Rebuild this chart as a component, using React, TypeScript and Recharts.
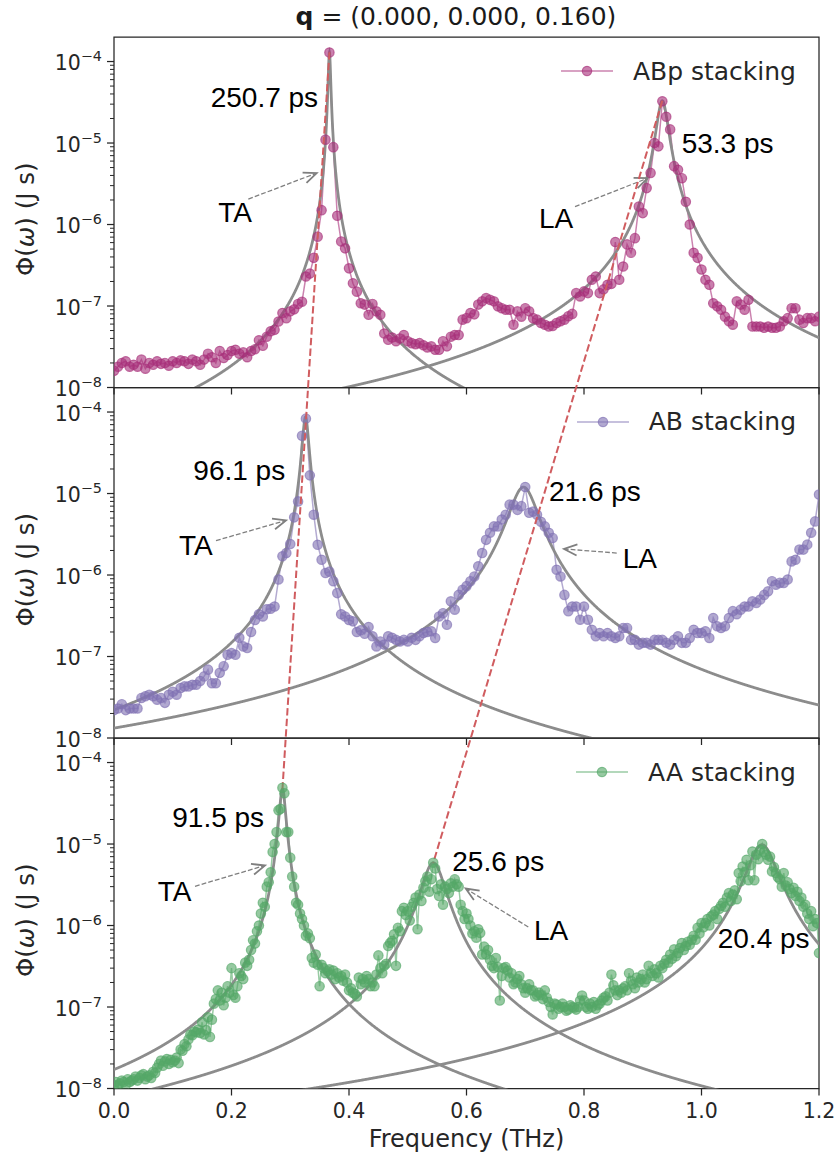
import React from 'react';
import {
  LineChart,
  Line,
  XAxis,
  YAxis,
  ReferenceLine,
  ReferenceDot,
  ReferenceArea,
  Legend,
  Customized,
} from 'recharts';

// ---------- figure layout ----------
const FIG_W = 839;
const FIG_H = 1159;
const PLOT_LEFT = 114;
const PLOT_RIGHT = 819;
const PANEL_TOP0 = 37;
const PANEL_H = 350.5;
const X_AXIS_H = 30;

const Y_MIN = 1e-8;
const Y_MAX = 2e-4;
const PANEL_SPAN = Y_MAX / Y_MIN; // one panel height, expressed as a y-ratio
const X_MAX = 1.2;
const X_TICKS = [0, 0.2, 0.4, 0.6, 0.8, 1.0, 1.2];

const AXIS_COLOR = '#262626';
const FONT_MAIN = '"DejaVu Sans", sans-serif';
const FONT_NOTE = '"Liberation Sans", Arial, sans-serif';
const FIT_COLOR = '#8c8c8c';
const LINK_COLOR = '#d05c5f';
const ARROW_COLOR = '#7f7f7f';
const TICK_FONT = 20.5;

// ---------- spectra: Φ(ω) in J s on uniform frequency grids (THz) ----------
const ABP_DF = 1 / 150;
const AB_DF = 1 / 150;
const AA_DF = 1 / 300;

const ABP_PHI = [
  1.6e-8, 1.8e-8, 2.0e-8, 2.1e-8, 1.8e-8, 1.9e-8, 1.8e-8, 2.2e-8, 1.7e-8, 2.0e-8,
  1.9e-8, 2.1e-8, 1.95e-8, 2.0e-8, 1.85e-8, 2.1e-8, 2.0e-8, 2.15e-8, 2.1e-8, 1.95e-8,
  2.2e-8, 2.1e-8, 1.9e-8, 2.2e-8, 2.6e-8, 2.35e-8, 2.0e-8, 2.8e-8, 2.3e-8, 2.5e-8,
  2.8e-8, 2.9e-8, 2.6e-8, 2.7e-8, 2.35e-8, 2.8e-8, 2.95e-8, 3.8e-8, 3.25e-8, 4.2e-8,
  4.9e-8, 5.1e-8, 6.45e-8, 8.2e-8, 7.1e-8, 8.6e-8, 9.1e-8, 1.06e-7, 1.13e-7, 2.3e-7,
  2.5e-7, 3.9e-7, 7.1e-7, 1.5e-6, 1.1e-5, 1.29e-4, 8.9e-6, 1.28e-6, 6.2e-7, 5.1e-7,
  2.9e-7, 1.9e-7, 1.5e-7, 1.08e-7, 1.04e-7, 7.8e-8, 1.06e-7, 8.6e-8, 7.8e-8, 4.6e-8,
  3.85e-8, 4.1e-8, 3.7e-8, 4.0e-8, 4.4e-8, 3.7e-8, 3.5e-8, 3.4e-8, 3.5e-8, 3.3e-8,
  3.1e-8, 3.2e-8, 2.9e-8, 2.9e-8, 3.7e-8, 3.2e-8, 4.2e-8, 4.4e-8, 4.4e-8, 6.8e-8,
  7.1e-8, 8.2e-8, 7.9e-8, 1.04e-7, 1.14e-7, 1.25e-7, 1.19e-7, 1.14e-7, 9.9e-8, 9.4e-8,
  9.0e-8, 9.0e-8, 5.9e-8, 8.6e-8, 7.4e-8, 9.4e-8, 8.6e-8, 7.1e-8, 6.8e-8, 6.2e-8,
  5.9e-8, 5.6e-8, 5.7e-8, 6.2e-8, 6.5e-8, 6.8e-8, 7.5e-8, 8.0e-8, 1.44e-7, 1.31e-7,
  1.51e-7, 1.44e-7, 2.1e-7, 2.3e-7, 1.44e-7, 1.6e-7, 1.82e-7, 1.87e-7, 6.1e-7, 2.1e-7,
  3.05e-7, 5.7e-7, 4.5e-7, 6.8e-7, 1.66e-6, 1.38e-6, 2.8e-6, 4.3e-6, 1.0e-5, 9.1e-6,
  3.25e-5, 2.1e-5, 1.47e-5, 5.2e-6, 4.7e-6, 3.7e-6, 1.9e-6, 1.0e-6, 4.5e-7, 3.9e-7,
  2.8e-7, 2.1e-7, 1.82e-7, 1.08e-7, 9.9e-8, 9.0e-8, 7.4e-8, 6.5e-8, 5.9e-8, 1.14e-7,
  1.04e-7, 9.0e-8, 1.19e-7, 5.6e-8, 5.6e-8, 5.6e-8, 5.4e-8, 5.6e-8, 5.4e-8, 5.4e-8,
  5.6e-8, 6.5e-8, 7.1e-8, 9.4e-8, 9.4e-8, 6.8e-8, 6.2e-8, 7.1e-8, 7.1e-8, 6.5e-8,
  7.4e-8,
];

const AB_PHI = [
  2.2e-8, 2.3e-8, 2.6e-8, 2.2e-8, 2.3e-8, 2.3e-8, 2.3e-8, 3.1e-8, 3.25e-8, 3.4e-8,
  3.25e-8, 2.95e-8, 3.1e-8, 2.7e-8, 3.4e-8, 3.7e-8, 3.4e-8, 4.1e-8, 4.3e-8, 4.3e-8,
  4.5e-8, 4.5e-8, 5.0e-8, 5.7e-8, 6.9e-8, 4.7e-8, 4.7e-8, 6.3e-8, 7.6e-8, 1.05e-7,
  1.1e-7, 1.05e-7, 1.7e-7, 1.33e-7, 1.27e-7, 2.0e-7, 2.8e-7, 3.3e-7, 3.1e-7, 3.8e-7,
  3.85e-7, 4.1e-7, 8.8e-7, 1.7e-6, 1.86e-6, 2.4e-6, 5.1e-6, 8.0e-6, 5.1e-5, 8.3e-5,
  1.67e-5, 5.5e-6, 2.35e-6, 1.54e-6, 1.06e-6, 1.1e-6, 8.4e-7, 6.0e-7, 3.3e-7, 3.1e-7,
  2.8e-7, 2.7e-7, 2.0e-7, 2.1e-7, 1.9e-7, 2.3e-7, 1.77e-7, 1.33e-7, 1.53e-7, 1.4e-7,
  1.77e-7, 1.7e-7, 1.6e-7, 1.53e-7, 1.6e-7, 1.53e-7, 1.7e-7, 1.6e-7, 1.77e-7, 1.94e-7,
  2.0e-7, 2.04e-7, 1.69e-7, 3.1e-7, 3.4e-7, 2.45e-7, 4.75e-7, 3.76e-7, 5.7e-7, 6.6e-7,
  7.3e-7, 8.4e-7, 9.6e-7, 1.28e-6, 1.86e-6, 2.7e-6, 3.3e-6, 3.95e-6, 3.95e-6, 4.8e-6,
  5.5e-6, 7.3e-6, 7.3e-6, 6.3e-6, 7.0e-6, 1.2e-5, 5.8e-6, 6.0e-6, 5.5e-6, 4.5e-6,
  3.95e-6, 3.3e-6, 2.85e-6, 1.16e-6, 9.6e-7, 5.7e-7, 3.6e-7, 4.1e-7, 4.1e-7, 2.83e-7,
  4.1e-7, 2.83e-7, 2.13e-7, 1.77e-7, 1.94e-7, 1.77e-7, 1.94e-7, 1.77e-7, 1.69e-7, 1.77e-7,
  2.24e-7, 2.24e-7, 1.6e-7, 1.6e-7, 1.4e-7, 1.47e-7, 1.47e-7, 1.4e-7, 1.6e-7, 1.6e-7,
  1.6e-7, 1.47e-7, 1.4e-7, 1.6e-7, 1.77e-7, 1.47e-7, 1.47e-7, 1.69e-7, 2.13e-7, 1.94e-7,
  1.94e-7, 2.04e-7, 1.69e-7, 2.97e-7, 2.35e-7, 2.24e-7, 2.35e-7, 2.97e-7, 3.6e-7, 3.3e-7,
  3.76e-7, 4.1e-7, 4.1e-7, 4.75e-7, 4.55e-7, 5.0e-7, 5.7e-7, 6.3e-7, 8.4e-7, 7.6e-7,
  8.0e-7, 8.0e-7, 8.8e-7, 1.47e-6, 1.54e-6, 2.05e-6, 2.05e-6, 2.36e-6, 3.3e-6, 4.55e-6,
  9.7e-6,
];

const AA_PHI = [
  1.1e-8, 1.2e-8, 1.1e-8, 1.15e-8, 1.25e-8, 1.2e-8, 1.1e-8, 1.3e-8, 1.2e-8, 1.25e-8,
  1.3e-8, 1.4e-8, 1.25e-8, 1.35e-8, 1.45e-8, 1.5e-8, 1.3e-8, 1.4e-8, 1.45e-8, 1.35e-8,
  1.6e-8, 1.55e-8, 1.8e-8, 2.0e-8, 2.2e-8, 1.9e-8, 2.15e-8, 2.3e-8, 2.0e-8, 2.25e-8,
  2.1e-8, 2.2e-8, 2.4e-8, 2.05e-8, 3.0e-8, 2.9e-8, 3.5e-8, 3.3e-8, 4.0e-8, 4.6e-8,
  4.5e-8, 5.0e-8, 4.9e-8, 5.3e-8, 4.8e-8, 6.5e-8, 4.6e-8, 5.2e-8, 7.5e-8, 4.3e-8,
  7.0e-8, 1.1e-7, 1.25e-7, 1.6e-7, 1.2e-7, 1.5e-7, 1.05e-7, 1.3e-7, 1.8e-7, 1.5e-7,
  3.0e-7, 1.4e-7, 1.3e-7, 1.8e-7, 2.6e-7, 2.4e-7, 2.2e-7, 3.5e-7, 3.2e-7, 3.8e-7,
  5.0e-7, 6.6e-7, 6.0e-7, 8.5e-7, 1.0e-6, 1.4e-6, 1.9e-6, 1.7e-6, 3.0e-6, 3.4e-6,
  4.5e-6, 8.0e-6, 1.0e-5, 1.4e-5, 2.6e-5, 2.7e-5, 4.9e-5, 4.2e-5, 1.4e-5, 1.4e-5,
  6.8e-6, 4.0e-6, 3.0e-6, 1.9e-6, 1.8e-6, 1.4e-6, 1.2e-6, 1.0e-6, 7.5e-7, 8.0e-7,
  7.0e-7, 4.0e-7, 3.5e-7, 4.4e-7, 3.3e-7, 1.8e-7, 3.3e-7, 3.0e-7, 2.6e-7, 2.75e-7,
  2.9e-7, 2.5e-7, 2.8e-7, 2.2e-7, 2.6e-7, 2.3e-7, 2.4e-7, 2.1e-7, 2.5e-7, 2.0e-7,
  1.6e-7, 1.7e-7, 1.5e-7, 1.45e-7, 1.35e-7, 2.3e-7, 1.9e-7, 2.2e-7, 2.0e-7, 2.4e-7,
  2.2e-7, 1.8e-7, 2.0e-7, 1.8e-7, 2.5e-7, 4.3e-7, 3.0e-7, 2.6e-7, 3.2e-7, 3.4e-7,
  5.6e-7, 6.1e-7, 6.5e-7, 7.8e-7, 3.2e-7, 9.4e-7, 8.5e-7, 1.5e-6, 1.65e-6, 1.35e-6,
  1.5e-6, 1.15e-6, 1.7e-6, 1.9e-6, 2.2e-6, 9.0e-7, 2.4e-6, 2.0e-6, 2.9e-6, 3.5e-6,
  4.0e-6, 2.6e-6, 3.7e-6, 5.9e-6, 5.0e-6, 2.8e-6, 2.3e-6, 3.2e-6, 1.8e-6, 3.0e-6,
  2.8e-6, 2.5e-6, 3.3e-6, 3.0e-6, 3.7e-6, 3.2e-6, 3.0e-6, 1.8e-6, 1.5e-6, 1.2e-6,
  1.4e-6, 1.2e-6, 1.0e-6, 8.0e-7, 8.5e-7, 7.1e-7, 9.0e-7, 8.1e-7, 4.4e-7, 5.5e-7,
  4.4e-7, 5.0e-7, 3.8e-7, 3.2e-7, 3.0e-7, 4.0e-7, 3.1e-7, 1.2e-7, 2.4e-7, 3.0e-7,
  3.1e-7, 2.8e-7, 2.3e-7, 2.6e-7, 1.9e-7, 2.0e-7, 2.2e-7, 2.4e-7, 1.9e-7, 1.7e-7,
  1.5e-7, 1.7e-7, 1.9e-7, 1.6e-7, 1.6e-7, 1.35e-7, 1.4e-7, 1.5e-7, 1.4e-7, 1.25e-7,
  1.6e-7, 1.3e-7, 1.15e-7, 1.0e-7, 8.1e-8, 1.1e-7, 1.07e-7, 9.5e-8, 1.0e-7, 1.1e-7,
  1.0e-7, 9.0e-8, 9.3e-8, 1.05e-7, 1.0e-7, 9.8e-8, 9.3e-8, 1.0e-7, 1.2e-7, 1.38e-7,
  1.2e-7, 1.0e-7, 9.5e-8, 1.1e-7, 1.0e-7, 1.15e-7, 9.5e-8, 1.05e-7, 1.1e-7, 1.2e-7,
  1.3e-7, 1.35e-7, 1.2e-7, 1.5e-7, 2.5e-7, 1.85e-7, 1.6e-7, 1.4e-7, 1.6e-7, 1.5e-7,
  1.7e-7, 1.8e-7, 1.6e-7, 2.6e-7, 2.1e-7, 1.9e-7, 1.7e-7, 2.3e-7, 2.0e-7, 2.2e-7,
  2.5e-7, 2.0e-7, 2.2e-7, 3.2e-7, 2.6e-7, 2.4e-7, 2.9e-7, 2.6e-7, 2.3e-7, 3.2e-7,
  3.0e-7, 3.4e-7, 3.8e-7, 3.5e-7, 4.4e-7, 3.9e-7, 5.1e-7, 4.2e-7, 4.6e-7, 5.3e-7,
  6.1e-7, 5.0e-7, 5.6e-7, 6.3e-7, 5.8e-7, 6.7e-7, 7.5e-7, 6.7e-7, 9.4e-7, 8.0e-7,
  1.07e-6, 9.5e-7, 1.07e-6, 1.2e-6, 1.0e-6, 1.3e-6, 1.36e-6, 1.5e-6, 1.2e-6, 1.6e-6,
  1.75e-6, 1.9e-6, 1.7e-6, 2.2e-6, 2.5e-6, 2.0e-6, 2.4e-6, 2.7e-6, 2.1e-6, 4.4e-6,
  3.5e-6, 5.3e-6, 4.5e-6, 6.4e-6, 3.6e-6, 5.5e-6, 8.1e-6, 3.6e-6, 7.4e-6, 6.5e-6,
  8.5e-6, 1.0e-5, 8.0e-6, 7.4e-6, 6.4e-6, 7.0e-6, 4.6e-6, 5.2e-6, 4.4e-6, 3.9e-6,
  3.7e-6, 3.0e-6, 4.4e-6, 3.1e-6, 3.4e-6, 2.8e-6, 2.5e-6, 2.9e-6, 2.3e-6, 2.6e-6,
  2.0e-6, 2.2e-6, 1.7e-6, 1.8e-6, 1.4e-6, 1.2e-6, 1.5e-6, 9.8e-7, 1.2e-6, 1.07e-6,
  4.6e-7,
];

// ---------- Lorentzian fits: centre (THz), peak height (J s), lifetime (ps) ----------
const ABP_FIT_CENTER = [0.3667, 0.9333];
const ABP_FIT_AMP = [1.3e-4, 3.3e-5];
const ABP_LIFETIME = [250.7, 53.3];

const AB_FIT_CENTER = [0.326, 0.697];
const AB_FIT_AMP = [8.7e-5, 1.2e-5];
const AB_LIFETIME = [96.1, 21.6];

const AA_FIT_CENTER = [0.2867, 0.5435, 1.103];
const AA_FIT_AMP = [4.7e-5, 5.9e-6, 9.8e-6];
const AA_LIFETIME = [91.5, 25.6, 20.4];

// ---------- annotation anchors in data coordinates [THz, J s] ----------
const ABP_TAU_LABEL_AT = [[0.1646, 2.78e-5], [0.9663, 7.5e-6]];
const AB_TAU_LABEL_AT = [[0.135, 1.45e-5], [0.7404, 8.2e-6]];
const AA_TAU_LABEL_AT = [[0.0992, 1.63e-5], [0.5758, 4.73e-6], [1.0276, 5.3e-7]];

const ABP_MODE_NOTES = [
  { text: 'TA', at: [0.1775, 1.06e-6], tail: [0.2286, 2.05e-6], tip: [0.345, 4.28e-6] },
  { text: 'LA', at: [0.7234, 9.0e-7], tail: [0.7847, 1.66e-6], tip: [0.9084, 3.7e-6] },
];
const AB_MODE_NOTES = [
  { text: 'TA', at: [0.1106, 1.77e-6], tail: [0.1736, 2.64e-6], tip: [0.2928, 4.68e-6] },
  { text: 'LA', at: [0.8659, 1.22e-6], tail: [0.8557, 1.86e-6], tip: [0.766, 2.09e-6] },
];
const AA_MODE_NOTES = [
  { text: 'TA', at: [0.0744, 1.99e-6], tail: [0.1379, 3.03e-6], tip: [0.257, 5.45e-6] },
  { text: 'LA', at: [0.7149, 6.7e-7], tail: [0.7052, 9.6e-7], tip: [0.5986, 2.84e-6] },
];

// ---------- helpers ----------
const toPoints = (phi: number[], df: number) => phi.map((v, i) => ({ f: i * df, phi: v }));

const FIT_STEP = 0.0005;
const lorentzian = (center: number, amp: number, tau: number) => {
  const fs: number[] = [];
  for (let k = 0; k * FIT_STEP <= X_MAX + 1e-9; k++) fs.push(k * FIT_STEP);
  fs.push(center);
  fs.sort((a, b) => a - b);
  return fs.map((f) => {
    const u = 2 * tau * (f - center);
    return { f, phi: amp / (1 + u * u) };
  });
};

const Y_TICKS: number[] = [];
for (let e = -8; e <= -5; e++) {
  for (let m = 1; m <= 9; m++) Y_TICKS.push(m * Math.pow(10, e));
}
Y_TICKS.push(1e-4);

const PANELS = [
  {
    name: 'ABp stacking',
    color: '#a8307a',
    points: toPoints(ABP_PHI, ABP_DF),
    centers: ABP_FIT_CENTER,
    amps: ABP_FIT_AMP,
    taus: ABP_LIFETIME,
    tauAt: ABP_TAU_LABEL_AT,
    notes: ABP_MODE_NOTES,
  },
  {
    name: 'AB stacking',
    color: '#8172b3',
    points: toPoints(AB_PHI, AB_DF),
    centers: AB_FIT_CENTER,
    amps: AB_FIT_AMP,
    taus: AB_LIFETIME,
    tauAt: AB_TAU_LABEL_AT,
    notes: AB_MODE_NOTES,
  },
  {
    name: 'AA stacking',
    color: '#55a868',
    points: toPoints(AA_PHI, AA_DF),
    centers: AA_FIT_CENTER,
    amps: AA_FIT_AMP,
    taus: AA_LIFETIME,
    tauAt: AA_TAU_LABEL_AT,
    notes: AA_MODE_NOTES,
  },
];

// ---------- tick renderers ----------
const YTick = (props: any) => {
  const { y, payload } = props;
  const v = payload.value as number;
  const lg = Math.log10(v);
  const e = Math.round(lg);
  const major = Math.abs(lg - e) < 1e-6;
  return (
    <g>
      <line
        x1={PLOT_LEFT - (major ? 7 : 4)}
        x2={PLOT_LEFT}
        y1={y}
        y2={y}
        stroke={AXIS_COLOR}
        strokeWidth={major ? 1.25 : 1}
      />
      {major && (
        <text
          x={PLOT_LEFT - 12}
          y={y + 8.5}
          textAnchor="end"
          fontFamily={FONT_MAIN}
          fontSize={TICK_FONT}
          fill={AXIS_COLOR}
        >
          <tspan>10</tspan>
          <tspan dy={-9} fontSize={TICK_FONT * 0.7}>{`\u2212${-e}`}</tspan>
        </text>
      )}
    </g>
  );
};

const makeXTick = (axisY: number, showLabel: boolean) => (props: any) => {
  const { x, payload } = props;
  return (
    <g>
      <line x1={x} x2={x} y1={axisY} y2={axisY + 7} stroke={AXIS_COLOR} strokeWidth={1.25} />
      {showLabel && (
        <text
          x={x}
          y={axisY + 29}
          textAnchor="middle"
          fontFamily={FONT_MAIN}
          fontSize={TICK_FONT}
          fill={AXIS_COLOR}
        >
          {(payload.value as number).toFixed(1)}
        </text>
      )}
    </g>
  );
};

// ---------- annotation shapes ----------
const ArrowShape = (props: any) => {
  const { x1, y1, x2, y2 } = props;
  const ang = Math.atan2(y2 - y1, x2 - x1);
  const L = 13;
  const W = 5.5;
  const bx = x2 - L * Math.cos(ang);
  const by = y2 - L * Math.sin(ang);
  const px = -Math.sin(ang) * W;
  const py = Math.cos(ang) * W;
  return (
    <g>
      <line
        x1={x1}
        y1={y1}
        x2={x2 - 2 * Math.cos(ang)}
        y2={y2 - 2 * Math.sin(ang)}
        stroke={ARROW_COLOR}
        strokeWidth={1.3}
        strokeDasharray="4.8 2.1"
      />
      <path
        d={`M${bx + px},${by + py} L${x2},${y2} L${bx - px},${by - py}`}
        fill="none"
        stroke={ARROW_COLOR}
        strokeWidth={1.8}
        strokeLinejoin="miter"
      />
    </g>
  );
};

const noteText = (label: string) => (props: any) => (
  <text x={props.cx} y={props.cy} fontFamily={FONT_NOTE} fontSize={28} fill="#000">
    {label}
  </text>
);

const DOT_R = 4.7;
const DOT_FILL_OPACITY = 0.62;

const LegendRow = ({ label, color }: { label: string; color: string }) => (
  <div style={{ display: 'flex', alignItems: 'center', justifyContent: 'flex-end', height: 25 }}>
    <svg width={52} height={12} style={{ overflow: 'visible' }}>
      <line x1={0} x2={52} y1={6} y2={6} stroke={color} strokeOpacity={0.6} strokeWidth={1.5} />
      <circle
        cx={26}
        cy={6}
        r={DOT_R}
        fill={color}
        fillOpacity={DOT_FILL_OPACITY}
        stroke={color}
        strokeOpacity={0.65}
        strokeWidth={1.2}
      />
    </svg>
    <span
      style={{
        marginLeft: 20,
        fontFamily: FONT_MAIN,
        fontSize: 25,
        lineHeight: '25px',
        color: AXIS_COLOR,
        whiteSpace: 'nowrap',
      }}
    >
      {label}
    </span>
  </div>
);

const Title = () => (
  <text x={456} y={25} textAnchor="middle" fontFamily={FONT_MAIN} fontSize={25} fill="#1a1a1a">
    <tspan fontWeight="bold">q</tspan>
    {' = (0.000, 0.000, 0.160)'}
  </text>
);

const YLabel = ({ cy }: { cy: number }) => (
  <text
    transform={`translate(34, ${cy}) rotate(-90)`}
    textAnchor="middle"
    fontFamily={FONT_MAIN}
    fontSize={24.5}
    fill={AXIS_COLOR}
  >
    {'\u03a6('}
    <tspan fontStyle="italic">{'\u03c9'}</tspan>
    {') (J s)'}
  </text>
);

const XLabel = () => (
  <text
    x={(PLOT_LEFT + PLOT_RIGHT) / 2}
    y={1147}
    textAnchor="middle"
    fontFamily={FONT_MAIN}
    fontSize={24}
    fill={AXIS_COLOR}
  >
    Frequency (THz)
  </text>
);

// ---------- one stacked panel ----------
const Panel = ({ index }: { index: number }) => {
  const p = PANELS[index];
  const top = PANEL_TOP0 + index * PANEL_H;
  const bottom = top + PANEL_H;
  const isBottom = index === PANELS.length - 1;
  const fits = p.centers.map((c, k) => lorentzian(c, p.amps[k], p.taus[k]));

  // dashed guides joining the TA and LA peaks from the top panel down to the bottom panel
  const topP = PANELS[0];
  const lift = Math.pow(PANEL_SPAN, PANELS.length - 1);

  return (
    <div style={{ position: 'absolute', left: 0, top: 0 }}>
      <LineChart
        width={FIG_W}
        height={FIG_H}
        margin={{ top, right: FIG_W - PLOT_RIGHT, bottom: FIG_H - bottom - X_AXIS_H, left: 0 }}
      >
        <XAxis
          type="number"
          dataKey="f"
          domain={[0, X_MAX]}
          ticks={X_TICKS}
          interval={0}
          allowDataOverflow
          height={X_AXIS_H}
          axisLine={false}
          tickLine={false}
          tick={makeXTick(bottom, isBottom)}
        />
        <YAxis
          type="number"
          scale="log"
          domain={[Y_MIN, Y_MAX]}
          ticks={Y_TICKS}
          interval={0}
          allowDataOverflow
          width={PLOT_LEFT}
          axisLine={false}
          tickLine={false}
          tick={YTick}
        />
        <ReferenceArea
          x1={0}
          x2={X_MAX}
          y1={Y_MIN}
          y2={Y_MAX}
          fill="none"
          fillOpacity={0}
          stroke={AXIS_COLOR}
          strokeWidth={1.25}
        />
        <Line
          data={p.points}
          dataKey="phi"
          name={p.name}
          stroke={p.color}
          strokeOpacity={0.6}
          strokeWidth={1.5}
          dot={{
            r: DOT_R,
            fill: p.color,
            fillOpacity: DOT_FILL_OPACITY,
            stroke: p.color,
            strokeOpacity: 0.65,
            strokeWidth: 1.2,
          }}
          activeDot={false}
          isAnimationActive={false}
        />
        {fits.map((d, k) => (
          <Line
            key={`fit-${k}`}
            data={d}
            dataKey="phi"
            stroke={FIT_COLOR}
            strokeWidth={2.8}
            dot={false}
            activeDot={false}
            legendType="none"
            isAnimationActive={false}
          />
        ))}
        {p.taus.map((tau, k) => (
          <ReferenceDot
            key={`tau-${k}`}
            x={p.tauAt[k][0]}
            y={p.tauAt[k][1]}
            r={0}
            shape={noteText(`${tau.toFixed(1)} ps`)}
          />
        ))}
        {p.notes.map((n, k) => (
          <ReferenceLine
            key={`arrow-${k}`}
            segment={[
              { x: n.tail[0], y: n.tail[1] },
              { x: n.tip[0], y: n.tip[1] },
            ]}
            ifOverflow="visible"
            shape={ArrowShape}
          />
        ))}
        {p.notes.map((n, k) => (
          <ReferenceDot key={`mode-${k}`} x={n.at[0]} y={n.at[1]} r={0} shape={noteText(n.text)} />
        ))}
        {isBottom &&
          p.centers.slice(0, 2).map((c, k) => (
            <ReferenceLine
              key={`link-${k}`}
              segment={[
                { x: topP.centers[k], y: topP.amps[k] * lift },
                { x: c, y: p.amps[k] },
              ]}
              ifOverflow="visible"
              stroke={LINK_COLOR}
              strokeWidth={2}
              strokeDasharray="7.4 3.2"
            />
          ))}
        <Legend
          verticalAlign="middle"
          align="center"
          layout="horizontal"
          wrapperStyle={{ top: top + 21.8, right: FIG_W - 796, left: 'auto', width: 'auto', height: 'auto' }}
          content={() => <LegendRow label={p.name} color={p.color} />}
        />
        <Customized component={<YLabel cy={top + PANEL_H / 2 + 7} />} />
        {index === 0 && <Customized component={<Title />} />}
        {isBottom && <Customized component={<XLabel />} />}
      </LineChart>
    </div>
  );
};

export default function App() {
  return (
    <div
      style={{
        position: 'absolute',
        left: 0,
        top: 0,
        width: FIG_W,
        height: FIG_H,
        background: '#ffffff',
        overflow: 'hidden',
      }}
    >
      {PANELS.map((_, i) => (
        <Panel key={i} index={i} />
      ))}
    </div>
  );
}
